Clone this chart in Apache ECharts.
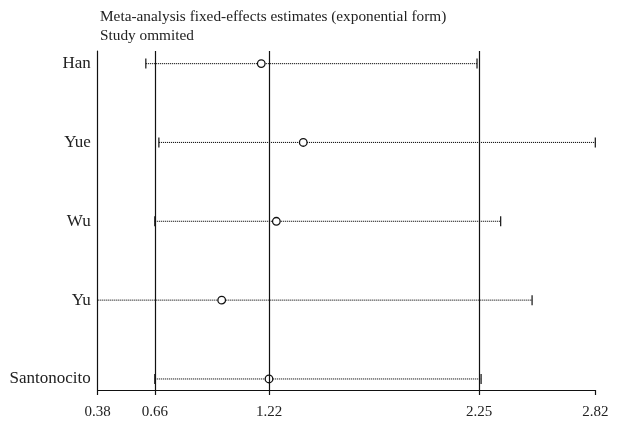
<!DOCTYPE html>
<html><head><meta charset="utf-8">
<script src="https://cdn.jsdelivr.net/npm/echarts@6/dist/echarts.min.js"></script>
<style>html,body{margin:0;padding:0;background:#fff}#c{width:619px;height:426px}</style>
</head><body><div id="c"></div>
<script>
// bottom to top
const studies = ['Santonocito', 'Yu', 'Wu', 'Yue', 'Han'];
const estimates = [1.22, 0.988, 1.256, 1.388, 1.182];
const lowerCI = [0.66, 0.35, 0.66, 0.68, 0.616];
const upperCI = [2.26, 2.51, 2.356, 2.82, 2.24];
const tickValues = [0.38, 0.66, 1.22, 2.25, 2.82];
const refLines = [0.66, 1.22, 2.25];
const titleLines = ['Meta-analysis fixed-effects estimates (exponential form)', 'Study ommited'];

const FONT = 'Liberation Serif';
const XMIN = 0.38, XMAX = 2.82;

const rows = studies.map((s, i) => [i, lowerCI[i], estimates[i], upperCI[i]]);

const chart = echarts.init(document.getElementById('c'), null, {renderer: 'canvas'});
chart.setOption({
  animation: false,
  backgroundColor: '#fff',
  title: {
    text: titleLines.join('\n'),
    left: 95, top: 2,
    textStyle: {fontFamily: FONT, fontSize: 15.3, fontWeight: 'normal', color: '#222', lineHeight: 19}
  },
  grid: {left: 97.7, right: 23.7, top: 51, bottom: 36, containLabel: false},
  xAxis: {
    type: 'value', min: XMIN, max: XMAX,
    splitLine: {show: false},
    axisLine: {show: true, onZero: false, lineStyle: {color: '#111', width: 1.2}},
    axisTick: {show: true, customValues: tickValues, length: 5, lineStyle: {color: '#111', width: 1.2}},
    axisLabel: {customValues: tickValues, formatter: v => v.toFixed(2), fontFamily: FONT, fontSize: 15, color: '#222', margin: 15}
  },
  yAxis: {
    type: 'value', min: -0.14, max: 4.16,
    splitLine: {show: false},
    axisLine: {show: true, onZero: false, lineStyle: {color: '#111', width: 1.2}},
    axisTick: {show: false},
    axisLabel: {customValues: studies.map((s, i) => i), formatter: v => studies[Math.round(v)], fontFamily: FONT, fontSize: 17, color: '#222', margin: 7}
  },
  series: [
    {
      type: 'line', data: [], silent: true,
      markLine: {
        silent: true, symbol: ['none', 'none'], label: {show: false},
        lineStyle: {color: '#111', width: 1.2, type: 'solid'},
        data: refLines.map(v => ({xAxis: v}))
      }
    },
    {
      type: 'custom',
      data: rows,
      encode: {x: [1, 2, 3], y: 0},
      renderItem: function (params, api) {
        const y = api.value(0), lo = api.value(1), est = api.value(2), hi = api.value(3);
        const p1 = api.coord([Math.max(lo, XMIN), y]);
        const p2 = api.coord([Math.min(hi, XMAX), y]);
        const pe = api.coord([est, y]);
        const children = [{
          type: 'line',
          shape: {x1: p1[0], y1: p1[1], x2: p2[0], y2: p2[1]},
          style: {stroke: '#000', lineWidth: 1.1, lineDash: [1, 1]}
        }];
        const cap = p => ({type: 'line', shape: {x1: p[0], y1: p[1] - 5, x2: p[0], y2: p[1] + 5}, style: {stroke: '#111', lineWidth: 1.2}});
        if (lo >= XMIN) children.push(cap(p1));
        if (hi <= XMAX) children.push(cap(p2));
        children.push({type: 'circle', shape: {cx: pe[0], cy: pe[1], r: 3.8}, style: {fill: '#fff', stroke: '#111', lineWidth: 1.3}});
        return {type: 'group', children: children};
      }
    }
  ]
});
</script>
</body></html>
